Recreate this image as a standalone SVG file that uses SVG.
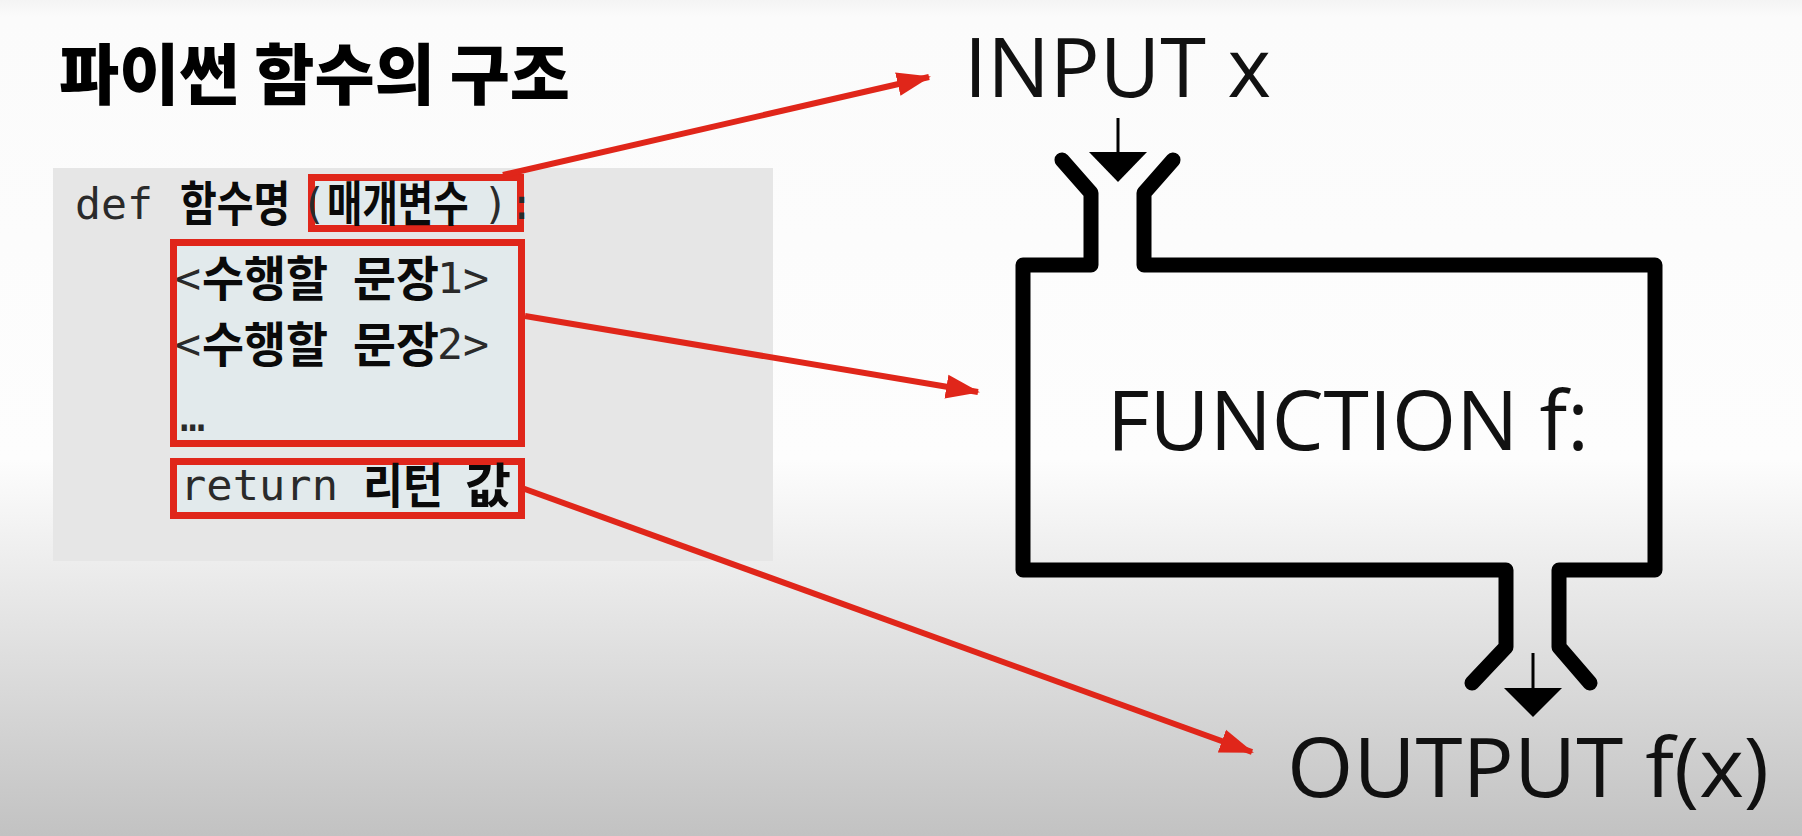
<svg xmlns="http://www.w3.org/2000/svg" width="1802" height="836" viewBox="0 0 1802 836">
<defs>
<linearGradient id="bg" x1="0" y1="0" x2="0" y2="836" gradientUnits="userSpaceOnUse">
<stop offset="0" stop-color="#f4f4f4"/>
<stop offset="0.02" stop-color="#fbfbfb"/>
<stop offset="0.55" stop-color="#fdfdfd"/>
<stop offset="1" stop-color="#c2c2c2"/>
</linearGradient>
<marker id="ah" markerUnits="userSpaceOnUse" markerWidth="34" markerHeight="28" viewBox="0 0 34 28" refX="32" refY="14" orient="auto">
<path d="M0,2 L34,14 L0,26 Z" fill="#e0261a"/>
</marker>
<style>
.mono{font-family:"DejaVu Sans Mono","Liberation Mono",monospace;font-size:42px;fill:#2a2a2a}
.ko{font-family:"Noto Sans CJK KR",sans-serif;font-weight:700;font-size:48px;fill:#0a0a0a}
.big{font-family:"Open Sans","Noto Sans",sans-serif;font-size:82px;fill:#111}
.redbox{fill:#e2eaec;stroke:#e0261a;stroke-width:7}
.conn{stroke:#e0261a;stroke-width:6;fill:none;marker-end:url(#ah)}
.fn{fill:none;stroke:#000;stroke-width:15;stroke-linejoin:round;stroke-linecap:round}
</style>
</defs>
<rect width="1802" height="836" fill="url(#bg)"/>

<g id="title">
<text x="59" y="99" font-family="Noto Sans CJK KR, sans-serif" font-weight="900" font-size="66" fill="#000" textLength="511" lengthAdjust="spacingAndGlyphs">파이썬 함수의 구조</text>
</g>

<g id="code-panel">
<rect x="53" y="168" width="720" height="393" fill="#e6e6e6"/>
</g>

<g id="box-params"><rect class="redbox" x="311.5" y="177.5" width="209" height="51"/></g>
<g id="box-body"><rect class="redbox" x="173.5" y="242.5" width="348" height="201"/></g>
<g id="box-return"><rect class="redbox" x="173.5" y="461.5" width="348" height="54"/></g>

<g id="code-text">
<text class="mono" x="75" y="219" textLength="78" lengthAdjust="spacingAndGlyphs">def</text>
<text class="ko" transform="translate(180,221) scale(1,1.2)" style="font-size:40px">함수명</text>
<text class="mono" x="301" y="219">(</text>
<text class="ko" transform="translate(327,221) scale(1,1.247)" style="font-size:38.5px">매개변수</text>
<text class="mono" x="483" y="219">)</text>
<text class="mono" x="509" y="219">:</text>

<text y="293"><tspan class="mono" x="175" textLength="26" lengthAdjust="spacingAndGlyphs">&lt;</tspan><tspan class="ko" x="202" y="296" textLength="126" lengthAdjust="spacingAndGlyphs">수행할</tspan><tspan class="ko" x="353" textLength="86" lengthAdjust="spacingAndGlyphs">문장</tspan><tspan class="mono" x="437" y="293" textLength="52" lengthAdjust="spacingAndGlyphs">1&gt;</tspan></text>

<text y="359"><tspan class="mono" x="175" textLength="26" lengthAdjust="spacingAndGlyphs">&lt;</tspan><tspan class="ko" x="202" y="362" textLength="126" lengthAdjust="spacingAndGlyphs">수행할</tspan><tspan class="ko" x="353" textLength="86" lengthAdjust="spacingAndGlyphs">문장</tspan><tspan class="mono" x="437" y="359" textLength="52" lengthAdjust="spacingAndGlyphs">2&gt;</tspan></text>

<text class="mono" x="180" y="431">…</text>

<text y="500"><tspan class="mono" x="180" textLength="158" lengthAdjust="spacingAndGlyphs">return</tspan><tspan class="ko" x="363" y="503" textLength="80" lengthAdjust="spacingAndGlyphs">리턴</tspan><tspan class="ko" x="465" textLength="46" lengthAdjust="spacingAndGlyphs">값</tspan></text>
</g>

<g id="function-machine">
<path class="fn" d="M1062,160 L1091,193 L1091,265 L1023,265 L1023,570 L1506,570 L1506,647 L1472,683"/>
<path class="fn" d="M1173,160 L1144,193 L1144,265 L1655,265 L1655,570 L1559,570 L1559,647 L1590,683"/>
<text class="big" x="1107" y="450" font-size="80" textLength="482" lengthAdjust="spacingAndGlyphs">FUNCTION f:</text>
</g>

<g id="input">
<text class="big" x="964" y="97" textLength="307" lengthAdjust="spacingAndGlyphs">INPUT x</text>
<line x1="1118" y1="118" x2="1118" y2="154" stroke="#000" stroke-width="3"/>
<path d="M1089,152 L1147,152 L1118,182 Z" fill="#000"/>
</g>

<g id="output">
<line x1="1533" y1="653" x2="1533" y2="690" stroke="#000" stroke-width="3"/>
<path d="M1504,688 L1562,688 L1533,717 Z" fill="#000"/>
<text class="big" x="1287" y="797" textLength="482" lengthAdjust="spacingAndGlyphs">OUTPUT f(x)</text>
</g>

<g id="connectors">
<line class="conn" x1="503" y1="175" x2="929" y2="77"/>
<line class="conn" x1="525" y1="316" x2="978" y2="392"/>
<line class="conn" x1="522" y1="488" x2="1252" y2="752"/>
</g>
</svg>
